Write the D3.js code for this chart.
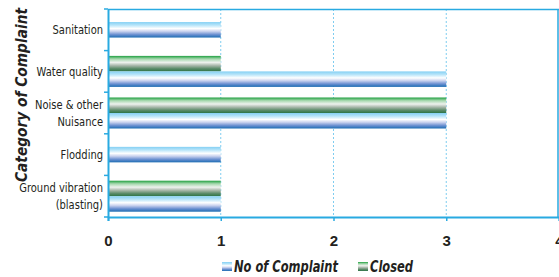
<!DOCTYPE html>
<html>
<head>
<meta charset="utf-8">
<script src="https://cdn.jsdelivr.net/npm/d3@7"></script>
<style>
  body { margin: 0; background: #fff; }
  svg { display: block; font-family: "Liberation Sans Narrow", "DejaVu Sans Condensed", sans-serif; }
</style>
</head>
<body>
<svg width="559" height="277"></svg>
<script>
var categories = ["Sanitation", "Water quality", "Noise & other|Nuisance", "Flodding", "Ground vibration|(blasting)"];
var complaintVals = [1, 3, 3, 1, 1];
var closedVals = [null, 1, 3, null, 1];
var xTicks = [0, 1, 2, 3, 4];
var seriesNames = ["No of Complaint", "Closed"];

var svg = d3.select("svg");
var mLeft = 108, mRight = 559, mTop = 9, mBottom = 217;
var barH = 15.5;
var squeeze = 0.85; // narrow the fallback font a bit
var axisColor = "#29aae1";
var textColor = "#231f20";

// gradients for the bars
var defs = svg.append("defs");
function grad(id, stops) {
  var g = defs.append("linearGradient").attr("id", id)
    .attr("x1", 0).attr("y1", 0).attr("x2", 0).attr("y2", 1);
  stops.forEach(function(s) {
    g.append("stop").attr("offset", s[0]).attr("stop-color", s[1]);
  });
}
grad("gBlue", [[0, "#84d0f4"], [0.2, "#b6e4f9"], [0.42, "#ffffff"], [0.6, "#c9d2ee"], [0.8, "#6f92d2"], [1, "#1b6cb3"]]);
grad("gGreen", [[0, "#20a040"], [0.2, "#a6d8ae"], [0.42, "#eef2ee"], [0.62, "#a9b8ab"], [0.82, "#5c8c6a"], [1, "#2d7446"]]);

var x = d3.scaleLinear().domain([0, 4]).range([mLeft, mRight]);
var y = d3.scaleBand().domain(categories).range([mTop, mBottom]);

// dashed grid lines
svg.append("g").selectAll("line")
  .data(xTicks.slice(1, 4))
  .enter().append("line")
  .attr("x1", function(d) { return x(d); }).attr("x2", function(d) { return x(d); })
  .attr("y1", mTop).attr("y2", mBottom)
  .attr("stroke", "#7fcdf0").attr("stroke-width", 1).attr("stroke-dasharray", "2,2");

// frame top and right
svg.append("line").attr("x1", mLeft).attr("x2", mRight).attr("y1", mTop + 0.5).attr("y2", mTop + 0.5)
  .attr("stroke", axisColor).attr("stroke-width", 1.5);
svg.append("line").attr("x1", mRight - 1).attr("x2", mRight - 1).attr("y1", mTop).attr("y2", mBottom)
  .attr("stroke", axisColor).attr("stroke-width", 1.5);

// bars
var rows = categories.map(function(c, i) {
  var list = [];
  if (closedVals[i] != null) list.push({ key: "Closed", value: closedVals[i], fill: "url(#gGreen)" });
  list.push({ key: "No of Complaint", value: complaintVals[i], fill: "url(#gBlue)" });
  return { cat: c, bars: list };
});

var rowG = svg.append("g").selectAll("g")
  .data(rows)
  .enter().append("g");

rowG.each(function(r) {
  var mid = y(r.cat) + y.bandwidth() / 2;
  var inner = d3.scaleBand().domain(r.bars.map(function(b) { return b.key; }))
    .range([mid - r.bars.length * barH / 2, mid + r.bars.length * barH / 2]);
  d3.select(this).selectAll("rect")
    .data(r.bars)
    .enter().append("rect")
    .attr("x", x(0))
    .attr("y", function(b) { return inner(b.key); })
    .attr("width", function(b) { return x(b.value) - x(0); })
    .attr("height", inner.bandwidth())
    .attr("fill", function(b) { return b.fill; });
});

// left axis
var yAxis = svg.append("g")
  .attr("transform", "translate(" + mLeft + ",0)")
  .call(d3.axisLeft(y).tickSize(0).tickFormat(""));
yAxis.select(".domain").attr("stroke", axisColor).attr("stroke-width", 2);
// boundary ticks
svg.append("g").selectAll("line")
  .data(categories.concat(["end"]))
  .enter().append("line")
  .attr("x1", mLeft - 4).attr("x2", mLeft)
  .attr("y1", function(d) { return d === "end" ? mBottom : y(d); })
  .attr("y2", function(d) { return d === "end" ? mBottom : y(d); })
  .attr("stroke", axisColor).attr("stroke-width", 1.5);

// category labels
var labelG = svg.append("g")
  .attr("transform", "translate(" + (mLeft - 5) + ",0) scale(" + squeeze + ",1)");
var labels = labelG.selectAll("text")
  .data(categories)
  .enter().append("text")
  .attr("text-anchor", "end")
  .attr("font-size", "13px")
  .attr("fill", textColor);
labels.each(function(c) {
  var lines = c.split("|");
  var mid = y(c) + y.bandwidth() / 2;
  var t = d3.select(this);
  lines.forEach(function(l, i) {
    t.append("tspan")
      .attr("x", 0)
      .attr("y", mid + 4.5 + (i - (lines.length - 1) / 2) * 17)
      .text(l);
  });
});

// bottom axis
var xAxis = svg.append("g")
  .attr("transform", "translate(0," + mBottom + ")")
  .call(d3.axisBottom(x).tickValues(xTicks).tickSize(4).tickPadding(14).tickFormat(d3.format("d")));
xAxis.select(".domain").attr("stroke", axisColor).attr("stroke-width", 2);
xAxis.selectAll(".tick line").attr("stroke", axisColor).attr("stroke-width", 1.5);
xAxis.selectAll("text")
  .attr("font-size", "15px").attr("font-weight", "bold").attr("fill", textColor)
  .attr("font-family", "inherit");

// y axis title
svg.append("text")
  .attr("transform", "translate(27,95) rotate(-90)")
  .attr("text-anchor", "middle")
  .attr("font-size", "15px")
  .attr("font-weight", "bold")
  .attr("font-style", "italic")
  .attr("fill", textColor)
  .attr("textLength", 174)
  .attr("lengthAdjust", "spacingAndGlyphs")
  .text("Category of Complaint");

// legend
var legend = svg.append("g").attr("transform", "translate(222,262)");
var legX = [0, 136];
seriesNames.forEach(function(s, i) {
  var g = legend.append("g").attr("transform", "translate(" + legX[i] + ",0)");
  g.append("rect").attr("width", 10).attr("height", 9)
    .attr("fill", i === 0 ? "url(#gBlue)" : "url(#gGreen)");
  g.append("text").attr("x", 12).attr("y", 10)
    .attr("transform", "scale(" + squeeze + ",1)")
    .attr("x", 12 / squeeze)
    .attr("font-size", "15px").attr("font-weight", "bold").attr("font-style", "italic")
    .attr("fill", textColor)
    .text(s);
});
</script>
</body>
</html>
